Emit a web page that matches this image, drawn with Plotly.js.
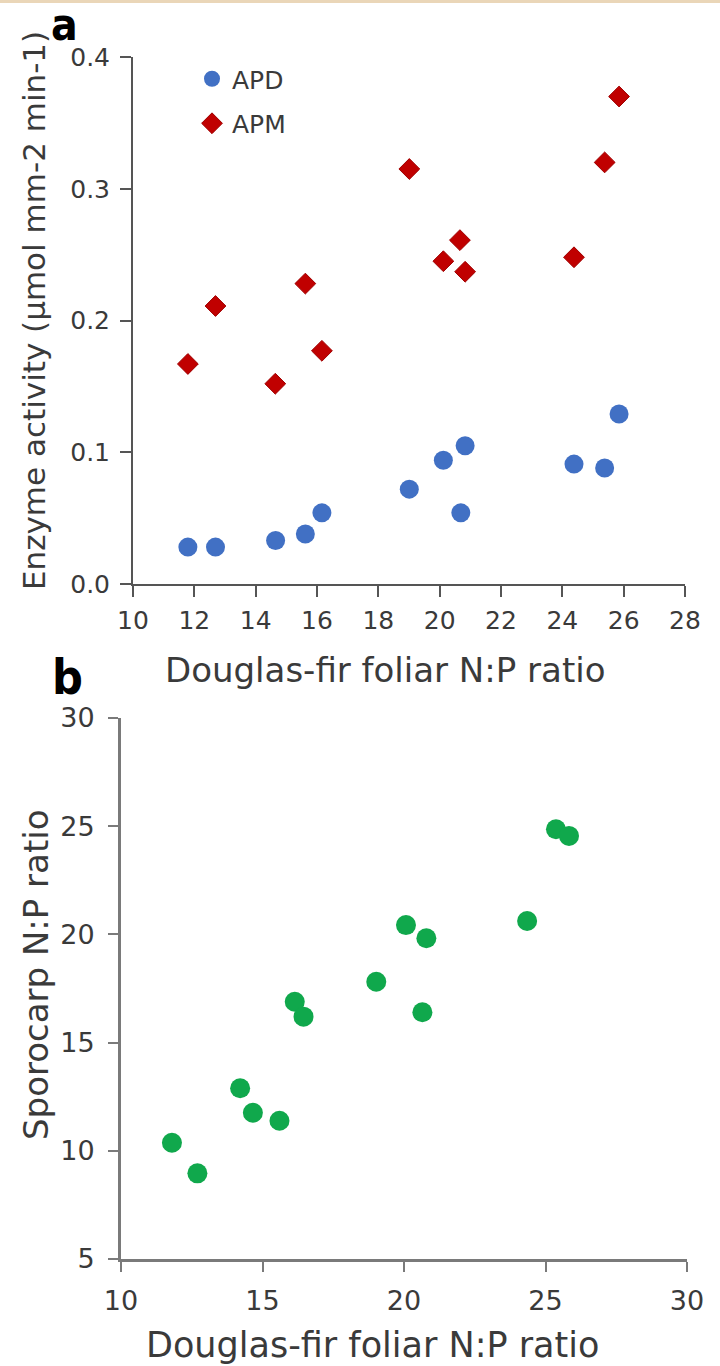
<!DOCTYPE html>
<html>
<head>
<meta charset="utf-8">
<script src="https://cdn.plot.ly/plotly-3.0.1.min.js"></script>
<style>html,body{margin:0;padding:0;background:#fff;} #chart{width:720px;height:1366px;}</style>
</head>
<body>
<div id="chart"></div>
<script>
// Panel a: enzyme activity vs Douglas-fir foliar N:P
const foliarNP_a = [11.79, 12.69, 14.65, 15.62, 16.16, 19.01, 20.12, 20.69, 20.83, 24.38, 25.38, 25.85];
const apd = [0.028, 0.028, 0.033, 0.038, 0.054, 0.072, 0.094, 0.054, 0.105, 0.091, 0.088, 0.129];
const foliarNP_apm = [11.79, 12.69, 14.64, 15.62, 16.16, 19.01, 20.12, 20.66, 20.83, 24.38, 25.38, 25.85];
const apm = [0.167, 0.211, 0.152, 0.228, 0.177, 0.315, 0.245, 0.261, 0.237, 0.248, 0.320, 0.370];
// Panel b: sporocarp N:P vs Douglas-fir foliar N:P
const foliarNP_b = [11.80, 12.70, 14.21, 14.66, 15.60, 16.14, 16.45, 19.02, 20.07, 20.65, 20.79, 24.35, 25.37, 25.83];
const sporocarpNP = [10.37, 8.96, 12.89, 11.76, 11.39, 16.89, 16.20, 17.81, 20.43, 16.40, 19.82, 20.62, 24.86, 24.55];

const W = 720, H = 1366;
const px = v => v / W;
const py = v => 1 - v / H;

const txt = '#3a3a3a';
const traces = [
  {x: foliarNP_a, y: apd, type: 'scatter', mode: 'markers', name: 'APD', xaxis: 'x', yaxis: 'y',
   legendgroup: 'g1', marker: {symbol: 'circle', size: 19, color: '#4170c4'}},
  {x: foliarNP_apm, y: apm, type: 'scatter', mode: 'markers', name: 'APM', xaxis: 'x', yaxis: 'y',
   legendgroup: 'g2', marker: {symbol: 'diamond', size: 16, color: '#c00000', line: {color: '#a00000', width: 1}}},
  {x: foliarNP_b, y: sporocarpNP, type: 'scatter', mode: 'markers', name: 'Sporocarp', xaxis: 'x2', yaxis: 'y2',
   showlegend: false, marker: {symbol: 'circle', size: 20, color: '#10a84c'}}
];

const axTop = {showline: true, linecolor: '#555', linewidth: 2, ticks: 'outside', ticklen: 11, tickwidth: 2,
  tickcolor: '#555', showgrid: false, zeroline: false, tickfont: {size: 25, color: txt, family: 'DejaVu Sans'}};
const axBot = {showline: true, linecolor: '#7a7a7a', linewidth: 3, ticks: 'outside', ticklen: 10, tickwidth: 2,
  tickcolor: '#7a7a7a', showgrid: false, zeroline: false, tickfont: {size: 27, color: txt, family: 'DejaVu Sans'}};

const layout = {
  width: W, height: H,
  margin: {l: 0, r: 0, t: 0, b: 0},
  paper_bgcolor: '#fff', plot_bgcolor: '#fff',
  font: {family: 'DejaVu Sans', color: txt},
  showlegend: true,
  legend: {x: px(192), y: py(56), xanchor: 'left', yanchor: 'top', bgcolor: 'rgba(0,0,0,0)',
    font: {size: 25, color: txt, family: 'DejaVu Sans'}, traceorder: 'grouped', tracegroupgap: 9, itemwidth: 30},
  xaxis: Object.assign({}, axTop, {domain: [px(133), px(685)], range: [10, 28], dtick: 2, tick0: 10, anchor: 'y', ticklabelstandoff: 2}),
  yaxis: Object.assign({}, axTop, {domain: [py(584), py(57)], range: [0, 0.4], dtick: 0.1, tickformat: '.1f', anchor: 'x', ticklabelstandoff: 5}),
  xaxis2: Object.assign({}, axBot, {domain: [px(121), px(687)], range: [10, 30], dtick: 5, tick0: 10, anchor: 'y2', ticklabelstandoff: 6}),
  yaxis2: Object.assign({}, axBot, {domain: [py(1259), py(718)], range: [5, 30], dtick: 5, tick0: 5, anchor: 'x2', ticklabelstandoff: 8}),
  shapes: [
    {type: 'rect', xref: 'paper', yref: 'paper', x0: 0, x1: 1, y0: py(3), y1: 1, fillcolor: '#ead6b8', line: {width: 0}}
  ],
  annotations: [
    {text: 'a', xref: 'paper', yref: 'paper', x: px(64), y: py(25), showarrow: false, xanchor: 'center', yanchor: 'middle',
     font: {size: 44, family: 'DejaVu Sans Condensed, DejaVu Sans', color: '#000', weight: 'bold'}},
    {text: 'b', xref: 'paper', yref: 'paper', x: px(67), y: py(677), showarrow: false, xanchor: 'center', yanchor: 'middle',
     font: {size: 48, family: 'DejaVu Sans Condensed, DejaVu Sans', color: '#000', weight: 'bold'}},
    {text: 'Enzyme activity (µmol mm-2 min-1)', xref: 'paper', yref: 'paper', x: px(34), y: py(311), textangle: -90,
     showarrow: false, xanchor: 'center', yanchor: 'middle', font: {size: 31, color: txt}},
    {text: 'Douglas-fir foliar N:P ratio', xref: 'paper', yref: 'paper', x: px(385), y: py(670), showarrow: false,
     xanchor: 'center', yanchor: 'middle', font: {size: 34, color: txt}},
    {text: 'Sporocarp N:P ratio', xref: 'paper', yref: 'paper', x: px(36), y: py(975), textangle: -90,
     showarrow: false, xanchor: 'center', yanchor: 'middle', font: {size: 34, color: txt}},
    {text: 'Douglas-fir foliar N:P ratio', xref: 'paper', yref: 'paper', x: px(372), y: py(1345), showarrow: false,
     xanchor: 'center', yanchor: 'middle', font: {size: 35, color: txt}}
  ]
};

Plotly.newPlot('chart', traces, layout, {staticPlot: true, displayModeBar: false});
</script>
</body>
</html>
